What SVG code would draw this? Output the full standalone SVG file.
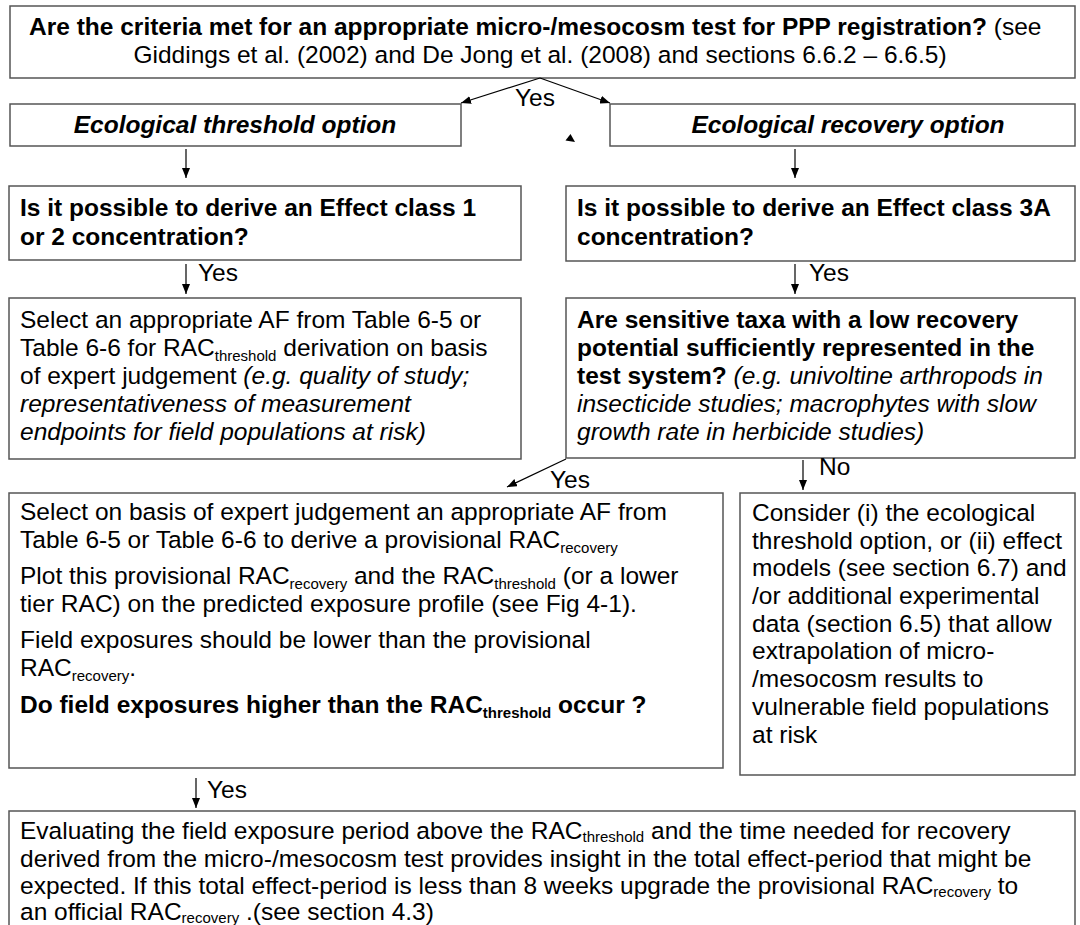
<svg xmlns="http://www.w3.org/2000/svg" width="1080" height="925" viewBox="0 0 1080 925">
<defs>
<style>
.box{fill:#fff;stroke:#555;stroke-width:1.5}
text{font-family:"Liberation Sans",Arial,sans-serif;font-size:24.5px;fill:#000}
.b{font-weight:bold}
.i{font-style:italic}
.bi{font-weight:bold;font-style:italic}
.s{font-size:15px}
.c{stroke:#000;stroke-width:1.2;fill:none}
</style>
<marker id="ah" viewBox="0 0 10 8" refX="10" refY="4" markerWidth="10" markerHeight="8" orient="auto" markerUnits="userSpaceOnUse"><path d="M0,0 L10,4 L0,8 z" fill="#000"/></marker>
</defs>
<rect width="1080" height="925" fill="#fff"/>

<g id="n-criteria">
<rect class="box" x="10" y="6" width="1065" height="72"/>
<text x="29" y="35"><tspan class="b">Are the criteria met for an appropriate micro-/mesocosm test for PPP registration?</tspan>  (see</text>
<text x="540" y="63" text-anchor="middle">Giddings et al. (2002) and De Jong et al. (2008) and sections 6.6.2 – 6.6.5)</text>
</g>

<g id="n-threshold-option">
<rect class="box" x="10" y="104" width="451" height="42"/>
<text class="bi" x="235" y="133" text-anchor="middle">Ecological threshold option</text>
</g>

<g id="n-recovery-option">
<rect class="box" x="610" y="104" width="465" height="42"/>
<text class="bi" x="848" y="133" text-anchor="middle">Ecological recovery option</text>
</g>

<g id="n-q-class12">
<rect class="box" x="9" y="186" width="512" height="74"/>
<text class="b" x="20" y="216">Is it possible to derive an Effect class 1</text>
<text class="b" x="20" y="245">or 2 concentration?</text>
</g>

<g id="n-q-class3a">
<rect class="box" x="566" y="186" width="509" height="75"/>
<text class="b" x="577" y="216">Is it possible to derive an Effect class 3A</text>
<text class="b" x="577" y="245">concentration?</text>
</g>

<g id="n-select-af">
<rect class="box" x="9" y="298" width="512" height="161"/>
<text x="20" y="328">Select an appropriate AF from Table 6-5 or</text>
<text x="20" y="356">Table 6-6 for RAC<tspan class="s" dy="5">threshold</tspan><tspan dy="-5"> derivation on basis</tspan></text>
<text x="20" y="384">of expert judgement  <tspan class="i">(e.g. quality of study;</tspan></text>
<text class="i" x="20" y="412">representativeness of measurement</text>
<text class="i" x="20" y="440">endpoints for field populations at risk)</text>
</g>

<g id="n-sensitive-taxa">
<rect class="box" x="566" y="298" width="509" height="160"/>
<text class="b" x="577" y="328">Are sensitive taxa with a low recovery</text>
<text class="b" x="577" y="356">potential sufficiently represented in the</text>
<text x="577" y="384"><tspan class="b">test system?</tspan> <tspan class="i">(e.g. univoltine arthropods in</tspan></text>
<text class="i" x="577" y="412">insecticide studies; macrophytes with slow</text>
<text class="i" x="577" y="440">growth rate in herbicide studies)</text>
</g>

<g id="n-provisional">
<rect class="box" x="9" y="493" width="714" height="275"/>
<text x="20" y="520">Select on basis of expert judgement an appropriate AF from</text>
<text x="20" y="548">Table 6-5 or Table 6-6 to derive a provisional RAC<tspan class="s" dy="5">recovery</tspan></text>
<text x="20" y="584">Plot this provisional RAC<tspan class="s" dy="5">recovery</tspan><tspan dy="-5"> and the RAC</tspan><tspan class="s" dy="5">threshold</tspan><tspan dy="-5">  (or a lower</tspan></text>
<text x="20" y="612">tier RAC) on the predicted exposure profile (see Fig 4-1).</text>
<text x="20" y="648">Field exposures should be lower than the provisional</text>
<text x="20" y="676">RAC<tspan class="s" dy="5">recovery</tspan><tspan dy="-5">.</tspan></text>
<text class="b" x="20" y="713">Do field exposures higher than the RAC<tspan class="s" dy="5">threshold</tspan><tspan dy="-5"> occur ?</tspan></text>
</g>

<g id="n-consider">
<rect class="box" x="740" y="493" width="335" height="282"/>
<text x="752" y="521">Consider (i) the ecological</text>
<text x="752" y="549">threshold option, or (ii) effect</text>
<text x="752" y="576">models (see section 6.7) and</text>
<text x="752" y="604">/or additional experimental</text>
<text x="752" y="632">data (section 6.5) that allow</text>
<text x="752" y="659">extrapolation of micro-</text>
<text x="752" y="687">/mesocosm results to</text>
<text x="752" y="715">vulnerable field populations</text>
<text x="752" y="743">at risk</text>
</g>

<g id="n-evaluate">
<rect class="box" x="9" y="811" width="1066" height="130"/>
<text x="20" y="839">Evaluating the field exposure period above the RAC<tspan class="s" dy="3">threshold</tspan><tspan dy="-3"> and the time needed for recovery</tspan></text>
<text x="20" y="867">derived from the micro-/mesocosm test provides insight in the total effect-period that might be</text>
<text x="20" y="894">expected. If this total effect-period is less than 8 weeks upgrade the provisional RAC<tspan class="s" dy="3">recovery</tspan><tspan dy="-3"> to</tspan></text>
<text x="20" y="920">an official RAC<tspan class="s" dy="3">recovery</tspan><tspan dy="-3"> .(see section 4.3)</tspan></text>
</g>

<g id="connectors">
<path class="c" d="M540,78 L461,103" marker-end="url(#ah)"/>
<path class="c" d="M540,78 L610,103" marker-end="url(#ah)"/>
<text x="515" y="106">Yes</text>
<polygon points="570.5,134 575,142 565.5,140.5" fill="#000"/>
<path class="c" d="M186,149 L186,178" marker-end="url(#ah)"/>
<path class="c" d="M795,149 L795,178" marker-end="url(#ah)"/>
<path class="c" d="M186,264 L186,294" marker-end="url(#ah)"/>
<text x="198" y="281">Yes</text>
<path class="c" d="M795,264 L795,294" marker-end="url(#ah)"/>
<text x="809" y="281">Yes</text>
<path class="c" d="M566,459 L507,487" marker-end="url(#ah)"/>
<text x="550" y="488">Yes</text>
<path class="c" d="M803,460 L803,490" marker-end="url(#ah)"/>
<text x="819" y="475">No</text>
<path class="c" d="M196,778 L196,808" marker-end="url(#ah)"/>
<text x="207" y="798">Yes</text>
</g>
</svg>
